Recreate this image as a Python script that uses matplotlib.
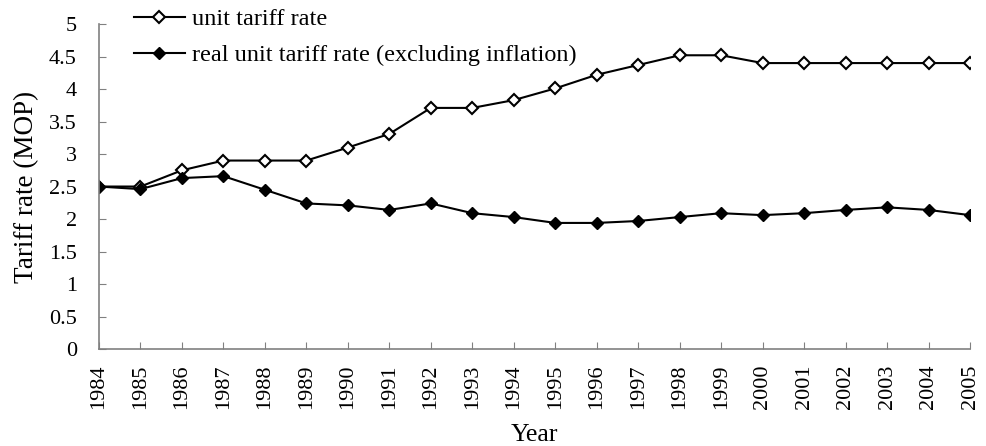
import matplotlib.pyplot as plt
import numpy as np

plt.rcParams['font.family'] = ['Liberation Serif', 'DejaVu Serif']

years = np.arange(1984, 2006)
unit_rate = [2.5, 2.5, 2.75, 2.9, 2.9, 2.9, 3.1, 3.31, 3.71, 3.71, 3.83,
             4.01, 4.22, 4.37, 4.52, 4.52, 4.4, 4.4, 4.4, 4.4, 4.4, 4.4]
real_rate = [2.5, 2.46, 2.63, 2.66, 2.45, 2.24, 2.21, 2.14, 2.24, 2.09, 2.03,
             1.94, 1.94, 1.97, 2.03, 2.09, 2.06, 2.09, 2.14, 2.18, 2.14, 2.06]

fig = plt.figure(figsize=(9.86, 4.46), dpi=100)
ax = fig.add_axes([0.1004, 0.2175, 0.8834, 0.7285])

l1, = ax.plot(years, unit_rate, '-', color='black', lw=1.5, marker='D', ms=6.5,
              mfc='white', mec='black', mew=1.5, label='unit tariff rate')
l2, = ax.plot(years, real_rate, '-', color='black', lw=1.5, marker='D', ms=6.5,
              mfc='black', mec='black', label='real unit tariff rate (excluding inflation)')

ax.set_xlim(1984, 2005)
ax.set_ylim(0, 5)
ax.set_yticks(np.arange(0, 5.01, 0.5))
ax.set_yticklabels(['0', '0.5', '1', '1.5', '2', '2.5', '3', '3.5', '4', '4.5', '5'])
ax.set_xticks(years)
ax.set_xticklabels([str(y) for y in years], rotation=90)

for s in ['top', 'right']:
    ax.spines[s].set_visible(False)
for s in ['left', 'bottom']:
    ax.spines[s].set_color('#808080')
    ax.spines[s].set_linewidth(1.2)
ax.tick_params(direction='in', length=5, color='#808080', labelsize=16)
ax.tick_params(axis='y', pad=16)
ax.tick_params(axis='x', pad=11)
for lab in ax.get_xticklabels() + ax.get_yticklabels():
    lab.set_clip_on(False)

ax.set_ylabel('Tariff rate (MOP)', fontsize=19.5, labelpad=7)
ax.set_xlabel('Year', fontsize=18.5, labelpad=11)

fig.legend(handles=[l1, l2], loc='upper left', bbox_to_anchor=(0.126, 1.003),
           frameon=False, fontsize=17.5, handlelength=2.1, handletextpad=0.3,
           labelspacing=0.57, borderaxespad=0)

fig.savefig('out.png', dpi=100)
